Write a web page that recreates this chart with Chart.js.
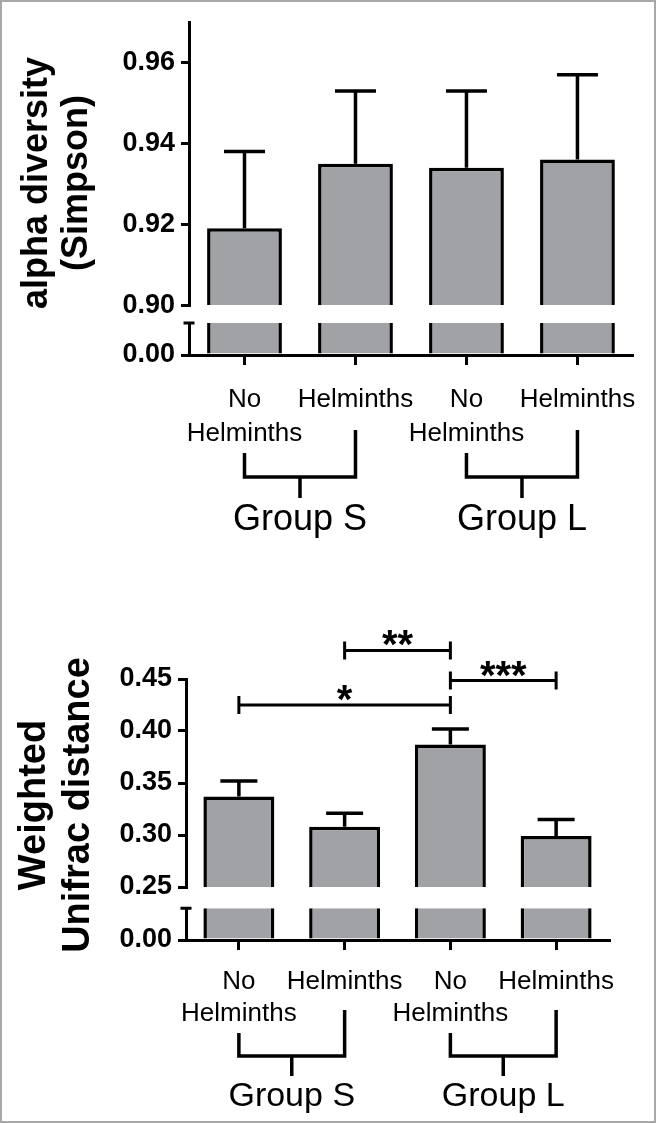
<!DOCTYPE html>
<html>
<head>
<meta charset="utf-8">
<script src="https://cdn.jsdelivr.net/npm/chart.js@4"></script>
<style>
  html, body { margin: 0; padding: 0; background: #fff; }
  #frame { position: relative; width: 656px; height: 1123px; overflow: hidden; }
  #frame canvas { position: absolute; left: 0; }
  #edge { position: absolute; inset: 0; border: 2px solid #a8a8a8; pointer-events: none; }
</style>
</head>
<body>
<div id="frame">
  <canvas id="simpsonChart" width="656" height="560" style="top:0"></canvas>
  <canvas id="unifracChart" width="656" height="563" style="top:560px"></canvas>
  <div id="edge"></div>
</div>
<script>
// categories and groups
const categories = [['No', 'Helminths'], 'Helminths', ['No', 'Helminths'], 'Helminths'];
const groupLabels = ['Group S', 'Group L'];
const groupFrom = [0, 2];
const groupTo = [1, 3];

// alpha diversity (Simpson), mean and SEM
const simpsonMean = [0.919, 0.935, 0.934, 0.936];
const simpsonSem = [0.019, 0.018, 0.019, 0.021];
const simpsonTicks = [0.90, 0.92, 0.94, 0.96];

// weighted Unifrac distance, mean and SEM
const unifracMean = [0.337, 0.308, 0.387, 0.299];
const unifracSem = [0.015, 0.013, 0.015, 0.016];
const unifracTicks = [0.25, 0.30, 0.35, 0.40, 0.45];

// significance brackets
const sigFrom = [0, 1, 2];
const sigTo = [2, 2, 3];
const sigLevel = [0.425, 0.4775, 0.4485];
const sigLabels = ['*', '**', '***'];

const FONT = "'Liberation Sans', Arial, sans-serif";
const INK = '#000';
const BAR_GREY = '#a1a2a6';

function alignPx(p, w) {
  return Math.round(p - w / 2) + w / 2;
}

function brokenBarChart(canvasId, o) {
  const lowCut = o.upperMin * o.stubFrac;

  const decor = {
    id: 'decor',
    afterDraw(chart) {
      const ctx = chart.ctx;
      const xs = chart.scales.x;
      const y = chart.scales.y;
      const yl = chart.scales.yLow;
      const base = chart.chartArea.bottom;
      ctx.save();
      ctx.strokeStyle = INK;
      ctx.fillStyle = INK;
      ctx.lineCap = 'butt';

      // lower piece of the broken y axis
      const ax = alignPx(yl.right, 3);
      ctx.lineWidth = 3;
      ctx.beginPath();
      ctx.moveTo(ax, yl.getPixelForValue(lowCut));
      ctx.lineTo(ax, yl.getPixelForValue(0));
      ctx.moveTo(ax - 6, yl.getPixelForValue(lowCut));
      ctx.lineTo(ax + 5, yl.getPixelForValue(lowCut));
      ctx.stroke();

      // error bars (upper only)
      ctx.lineWidth = 3.5;
      o.mean.forEach((m, i) => {
        const x = xs.getPixelForValue(i);
        const y0 = y.getPixelForValue(m);
        const y1 = y.getPixelForValue(m + o.sem[i]);
        ctx.beginPath();
        ctx.moveTo(x, y0);
        ctx.lineTo(x, y1);
        ctx.moveTo(x - o.capW / 2, y1);
        ctx.lineTo(x + o.capW / 2, y1);
        ctx.stroke();
      });

      // significance brackets
      if (o.sig) {
        ctx.lineWidth = 3;
        ctx.font = 'bold 40px ' + FONT;
        ctx.textAlign = 'center';
        ctx.textBaseline = 'alphabetic';
        o.sig.from.forEach((a, k) => {
          const xa = xs.getPixelForValue(a);
          const xb = xs.getPixelForValue(o.sig.to[k]);
          const yy = y.getPixelForValue(o.sig.level[k]);
          ctx.beginPath();
          ctx.moveTo(xa, yy); ctx.lineTo(xb, yy);
          ctx.moveTo(xa, yy - 9); ctx.lineTo(xa, yy + 9);
          ctx.moveTo(xb, yy - 9); ctx.lineTo(xb, yy + 9);
          ctx.stroke();
          ctx.fillText(o.sig.labels[k], (xa + xb) / 2, yy + 8);
        });
      }

      // group brackets under the x axis
      ctx.lineWidth = 3.5;
      ctx.lineJoin = 'miter';
      ctx.font = o.groupFont + 'px ' + FONT;
      ctx.textAlign = 'center';
      ctx.textBaseline = 'middle';
      groupLabels.forEach((g, k) => {
        const xa = xs.getPixelForValue(groupFrom[k]);
        const xb = xs.getPixelForValue(groupTo[k]);
        const mid = (xa + xb) / 2;
        ctx.beginPath();
        ctx.moveTo(xa, base + o.br.leftTop);
        ctx.lineTo(xa, base + o.br.bar);
        ctx.lineTo(xb, base + o.br.bar);
        ctx.lineTo(xb, base + o.br.rightTop);
        ctx.moveTo(mid, base + o.br.bar);
        ctx.lineTo(mid, base + o.br.stem);
        ctx.stroke();
        ctx.fillText(g, mid, base + o.br.text);
      });

      // rotated y axis title
      ctx.font = 'bold ' + o.titleFont + 'px ' + FONT;
      o.title.forEach((line, k) => {
        ctx.save();
        ctx.translate(o.titleX[k], o.titleY);
        ctx.rotate(-Math.PI / 2);
        ctx.fillText(line, 0, 0);
        ctx.restore();
      });
      ctx.restore();
    }
  };

  const tickFont = { family: FONT, size: 27, weight: 'bold' };
  const barCommon = {
    backgroundColor: BAR_GREY,
    borderColor: INK,
    grouped: false,
    barPercentage: o.barPct,
    categoryPercentage: 1
  };

  return new Chart(document.getElementById(canvasId), {
    type: 'bar',
    data: {
      labels: categories,
      datasets: [
        Object.assign({ data: o.mean, yAxisID: 'y', borderWidth: 3.5, borderSkipped: 'start' }, barCommon),
        Object.assign({
          data: o.mean.map(v => Math.min(v, lowCut)), yAxisID: 'yLow',
          borderWidth: { left: 3.5, right: 3.5, top: 0, bottom: 0 }, borderSkipped: 'start'
        }, barCommon)
      ]
    },
    options: {
      responsive: false,
      animation: false,
      layout: { padding: { top: o.padTop, right: o.padRight, left: 0, bottom: 0 } },
      plugins: { legend: { display: false }, tooltip: { enabled: false } },
      scales: {
        x: {
          type: 'category',
          offset: true,
          grid: { offset: false, drawOnChartArea: false, color: INK, lineWidth: 3, tickLength: 10 },
          border: { color: INK, width: 3 },
          ticks: {
            color: INK, autoSkip: false, maxRotation: 0, padding: o.labelPad,
            font: { family: FONT, size: 26, lineHeight: o.labelLine }
          },
          afterFit: s => { s.height = o.xHeight; }
        },
        yLow: {
          type: 'linear', position: 'left', stack: 'brk', stackWeight: o.lowWeight,
          min: 0, max: o.upperMin,
          afterBuildTicks: s => { s.ticks = [{ value: 0 }]; },
          grid: { drawOnChartArea: false, color: INK, lineWidth: 3, tickLength: 8 },
          border: { display: false },
          ticks: { color: INK, padding: 6, font: tickFont, callback: v => Number(v).toFixed(2) },
          afterFit: s => { s.width = o.yWidth; }
        },
        y: {
          type: 'linear', position: 'left', stack: 'brk', stackWeight: o.upWeight,
          min: o.upperMin, max: o.upperMax,
          afterBuildTicks: s => { s.ticks = o.ticks.map(v => ({ value: v })); },
          grid: { drawOnChartArea: false, color: INK, lineWidth: 3, tickLength: 8 },
          border: { display: true, color: INK, width: 3 },
          ticks: { color: INK, padding: 6, font: tickFont, callback: v => Number(v).toFixed(2) },
          afterFit: s => { s.width = o.yWidth; }
        }
      }
    },
    plugins: [decor]
  });
}

brokenBarChart('simpsonChart', {
  mean: simpsonMean, sem: simpsonSem, ticks: simpsonTicks,
  upperMin: 0.90, upperMax: 0.97, stubFrac: 0.64,
  upWeight: 289, lowWeight: 51,
  padTop: 15, padRight: 22, yWidth: 189, xHeight: 205,
  barPct: 0.674, capW: 41,
  labelPad: 18, labelLine: 1.3,
  groupFont: 36,
  br: { leftTop: 98, rightTop: 75, bar: 122, stem: 143, text: 165 },
  title: ['alpha diversity', '(Simpson)'], titleX: [37, 77], titleY: 183, titleFont: 36
});

brokenBarChart('unifracChart', {
  mean: unifracMean, sem: unifracSem, ticks: unifracTicks,
  upperMin: 0.25, upperMax: 0.45, stubFrac: 0.6,
  upWeight: 208, lowWeight: 53,
  padTop: 119, padRight: 47, yWidth: 186, xHeight: 183,
  barPct: 0.671, capW: 37,
  labelPad: 15, labelLine: 1.26,
  groupFont: 34,
  br: { leftTop: 93, rightTop: 70, bar: 116, stem: 136, text: 157 },
  sig: { from: sigFrom, to: sigTo, level: sigLevel, labels: sigLabels },
  title: ['Weighted', 'Unifrac distance'], titleX: [35, 79], titleY: 245, titleFont: 38
});
</script>
</body>
</html>
